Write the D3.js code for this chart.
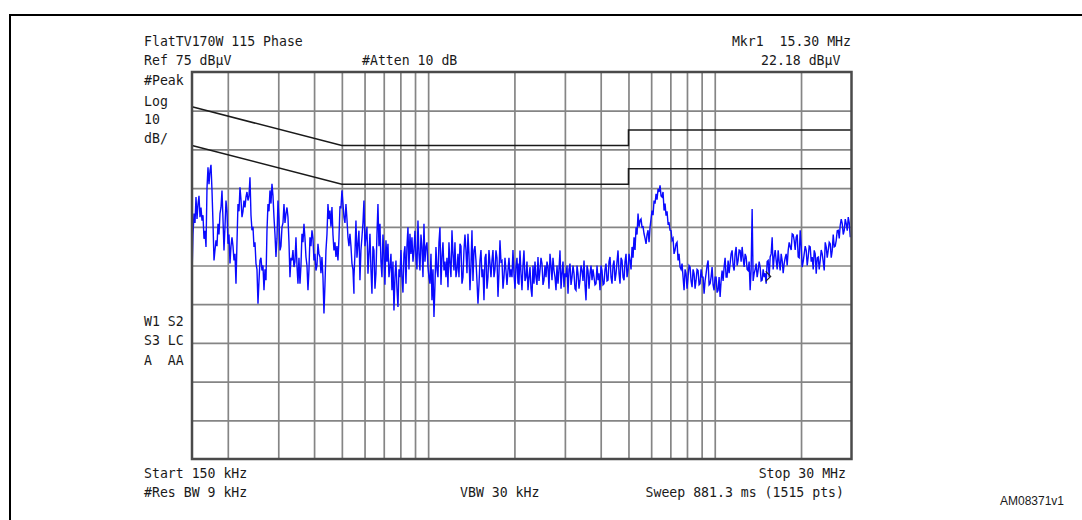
<!DOCTYPE html>
<html><head><meta charset="utf-8">
<script src="https://cdn.jsdelivr.net/npm/d3@7"></script>
<style>
body{margin:0;background:#fff;}
svg text{font-family:"DejaVu Sans Mono",monospace;font-size:13.2px;fill:#1a1a1a;white-space:pre;}
</style>
</head><body><svg id="c" width="1082" height="520"></svg>
<script>
// ---------- data ----------
const startFreqMHz = 0.15, stopFreqMHz = 30;
const refLevel = 75, bottomLevel = -25;
const levelGrid = [65, 55, 45, 35, 25, 15, 5, -5, -15];
const freqGridMHz = [0.2,0.3,0.4,0.5,0.6,0.7,0.8,0.9,1,2,3,4,5,6,7,8,9,10,20];
const qpLimitFreq  = [0.15, 0.5, 5, 5, 30];
const qpLimitLevel = [66, 56, 56, 60, 60];
const avLimitFreq  = [0.15, 0.5, 5, 5, 30];
const avLimitLevel = [56, 46, 46, 50, 50];
const markerFreqMHz = 15.30, markerLevel = 22.18;

// trace, dBµV: main sweep points and the in-between points, per frequency span
const seg1Span = [0.15, 0.551];
const seg1 = [22.5,38.4,42.7,40.9,37.5,36.6,31.9,29.8,50.4,49.5,44.4,26.3,31.5,35.8,38.4,44.4,28.9,41.8,30.6,25.5,32.3,26.3,20.3,40.9,45.2,37.5,41.8,42.7,41.8,47.8,34.1,29.8,25.5,15.1,26.3,23.7,18.6,21.2,40.9,44.4,46.1,37.5,27.2,41.8,28.9,34.9,40.9,38.4,37.5,22.0,26.3,24.6,32.3,20.3,20.3,33.2,35.8,27.2,18.6,32.3,34.1,26.3,23.7,30.6,27.2,27.2,12.6,28.9,40.9,39.2,40.1,28.9,27.2,26.3,40.1,44.4,37.5,40.9,32.3,33.2,25.5,17.7];
const seg1Mid = [33,36,37,43,40,38,34,45,46,51,36,29,30,33,40,37,35,39,33,30,30,28,31,39,42,39,40,44,43,38,35,31,24,21,27,25,24,34,39,41,43,33,32,37,30,36,36,40,31,27,29,26,25,27,25,31,32,25,24,30,32,28,25,28,23,22,20,33,37,35,33,31,30,32,40,41,36,37,30,30,24];
const seg2Span = [0.551, 2.058];
const seg2 = [22.0,36.6,30.6,21.2,32.3,41.8,32.3,22.9,33.2,17.7,28.9,22.9,40.9,35.8,22.0,28.0,31.5,30.6,24.6,18.6,13.4,26.3,14.3,22.0,22.0,28.0,20.3,34.9,33.2,32.3,28.9,27.2,36.6,23.7,29.8,35.8,29.8,24.6,20.3,16.0,11.7,29.8,22.0,34.9,27.2,23.7,22.0,19.4,25.5,34.1,23.7,22.0,28.0,30.6,20.3,28.9,28.9,33.2,18.6,34.1,28.9,26.3,15.1,26.3,22.0,16.0,28.0,22.0,25.5,26.3,22.0,28.9,16.9,31.5,26.3,22.0,23.7,23.7,22.0,22.0,22.9,24.6,20.3];
const seg2Mid = [28,27,34,29,36,30,35,28,24,30,19,33,30,26,33,20,26,22,28,26,22,19,24,29,18,30,30,24,28,26,34,24,28,33,22,26,31,22,28,24,20,24,31,20,31,26,27,31,22,28,31,24,22,30,22,33,23,28,25,21,30,21,20,29,24,27,19,29,22,29,24,27,23,26,19,27,20,27,24,29,19,27];
const seg3Span = [2.058, 7.69];
const seg3 = [25.5,28.9,18.6,28.9,22.0,18.6,24.6,16.9,20.3,22.0,27.2,23.7,25.5,21.2,22.0,24.6,28.0,21.2,23.7,18.6,20.3,28.9,22.9,19.4,22.0,17.7,25.5,22.0,22.9,18.6,22.9,21.2,23.7,26.3,16.0,23.7,22.9,21.2,22.0,20.3,21.2,18.6,23.7,20.3,25.5,21.2,27.2,20.3,26.3,22.9,28.9,20.3,26.3,21.2,28.0,23.7,26.3,29.8,32.3,34.9,38.4,36.6,34.9,33.2,30.6,34.1,34.9,39.2,41.8,43.5,44.8,45.7,42.7,39.2,37.9,35.8,34.1,31.5,28.0,30.6,26.3,24.6,25.5];
const seg3Mid = [20,23,25,21,26,22,19,25,26,20,21,27,20,25,26,19,25,27,22,25,24,19,26,23,25,24,20,25,19,25,19,25,21,20,25,19,25,24,20,25,23,25,20,24,21,26,22,25,21,26,23,27,22,26,22,28,24,27,29,33,35,37,35,32,33,31,37,38,41,42,44,43,44,41,39,36,34,32,29,31,28,24];
const seg4Span = [7.69, 29.7];
const seg4 = [25.5,18.6,22.9,22.0,24.6,19.4,22.9,21.2,23.7,20.3,22.0,17.7,22.9,26.3,20.3,24.6,18.6,22.0,18.6,16.9,23.7,24.6,22.0,26.3,25.5,28.9,23.7,29.8,26.3,28.9,29.8,24.6,27.2,23.7,18.6,39.6,22.9,25.5,23.7,24.6,21.2,22.0,20.3,26.3,27.2,32.3,27.2,26.3,28.9,23.7,26.3,25.5,28.0,28.9,29.8,33.2,31.5,32.3,27.2,34.1,24.6,28.0,28.9,27.2,29.8,27.2,28.9,22.9,27.2,26.3,28.0,23.7,29.8,28.9,30.6,28.9,29.8,31.5,34.1,35.4,35.8,34.1,35.8,37.5,32.3];
const seg4Mid = [22,24,19,25,21,24,19,24,20,24,22,21,25,20,22,20,22,18,22,21,21,27,22,23,28,25,28,25,29,26,27,28,24,26,24,21,24,22,26,21,24,23,26,22,28,24,29,24,26,28,23,27,25,31,29,33,29,33,27,30,26,30,25,30,26,24,28,27,24,29,26,31,27,31,27,33,30,34,32,37,33,37,34,36];

// ---------- layout ----------
const svg = d3.select("#c");
const L = 192, R = 851.5, T = 72, B = 459;
const x = d3.scaleLog().domain([startFreqMHz, stopFreqMHz]).range([L, R]);
const y = d3.scaleLinear().domain([bottomLevel, refLevel]).range([B, T]);

// outer figure border
svg.append("path").attr("d", `M10,1000 L10,15 L1100,15`).attr("fill","none").attr("stroke","#000").attr("stroke-width",2);

// grid via axes
const gx = svg.append("g").attr("transform", `translate(0,${B})`)
  .call(d3.axisBottom(x).tickValues(freqGridMHz).tickSize(-(B - T)).tickFormat(""));
const gy = svg.append("g").attr("transform", `translate(${L},0)`)
  .call(d3.axisLeft(y).tickValues(levelGrid).tickSize(-(R - L)).tickFormat(""));
[gx, gy].forEach(g => {
  g.select(".domain").remove();
  g.selectAll(".tick line").attr("stroke", "#858585").attr("stroke-width", 1.7);
});

// limit lines
const lim = d3.line().x(d => x(d[0])).y(d => y(d[1]));
[[qpLimitFreq, qpLimitLevel], [avLimitFreq, avLimitLevel]].forEach(([f, l]) => {
  svg.append("path").datum(d3.zip(f, l)).attr("d", lim)
    .attr("fill","none").attr("stroke","#1a1a1a").attr("stroke-width",1.5);
});

// trace
const pts = [];
[[seg1Span, seg1, seg1Mid],[seg2Span, seg2, seg2Mid],[seg3Span, seg3, seg3Mid],[seg4Span, seg4, seg4Mid]]
.forEach(([span, vals, mids]) => {
  const n = vals.length;
  const lf = d3.scaleLinear().domain([0, n - 1]).range([Math.log10(span[0]), Math.log10(span[1])]);
  vals.forEach((v, i) => {
    pts.push([Math.pow(10, lf(i)), v]);
    if (i < n - 1 && i < mids.length) pts.push([Math.pow(10, lf(i + 0.5)), mids[i]]);
  });
});
svg.append("clipPath").attr("id","pc").append("rect").attr("x",L).attr("y",T).attr("width",R-L).attr("height",B-T);
svg.append("path").datum(pts).attr("clip-path","url(#pc)")
  .attr("d", d3.line().x(d => x(d[0])).y(d => y(d[1])))
  .attr("fill","none").attr("stroke","#0a0aff").attr("stroke-width",1.4).attr("stroke-linejoin","miter");

// frame
svg.append("rect").attr("x",L).attr("y",T).attr("width",R-L).attr("height",B-T)
  .attr("fill","none").attr("stroke","#4a4a4a").attr("stroke-width",2.5);

// marker
const mx = x(markerFreqMHz), my = y(markerLevel);
svg.append("path").attr("d", `M${mx-2},${my-5} L${mx+3},${my} L${mx-2},${my+5}`)
  .attr("fill","none").attr("stroke","#222").attr("stroke-width",1.2);

// texts
const texts = [
  ["FlatTV170W 115 Phase", 144, 45.7, "start"],
  ["Ref 75 dBµV", 144, 65, "start"],
  ["#Atten 10 dB", 362, 65, "start"],
  ["Mkr1  15.30 MHz", 851, 45.7, "end"],
  ["22.18 dBµV", 761, 65, "start"],
  ["#Peak", 144, 85, "start"],
  ["Log", 144, 106, "start"],
  ["10", 144, 124, "start"],
  ["dB/", 144, 143, "start"],
  ["W1 S2", 144, 325.7, "start"],
  ["S3 LC", 144, 345, "start"],
  ["A  AA", 144, 365, "start"],
  ["Start 150 kHz", 144, 478, "start"],
  ["#Res BW 9 kHz", 144, 497, "start"],
  ["Stop 30 MHz", 846, 478, "end"],
  ["VBW 30 kHz", 460, 497, "start"],
  ["Sweep 881.3 ms (1515 pts)", 844, 497, "end"]
];
svg.selectAll("text.t").data(texts).enter().append("text").attr("class","t")
  .attr("x", d => d[1]).attr("y", d => d[2]).attr("text-anchor", d => d[3]).text(d => d[0]);
svg.append("text").attr("x",1000).attr("y",505)
  .style("font-family","'Liberation Sans',Arial,sans-serif").style("font-size","12px")
  .text("AM08371v1");
</script>
</body></html>
